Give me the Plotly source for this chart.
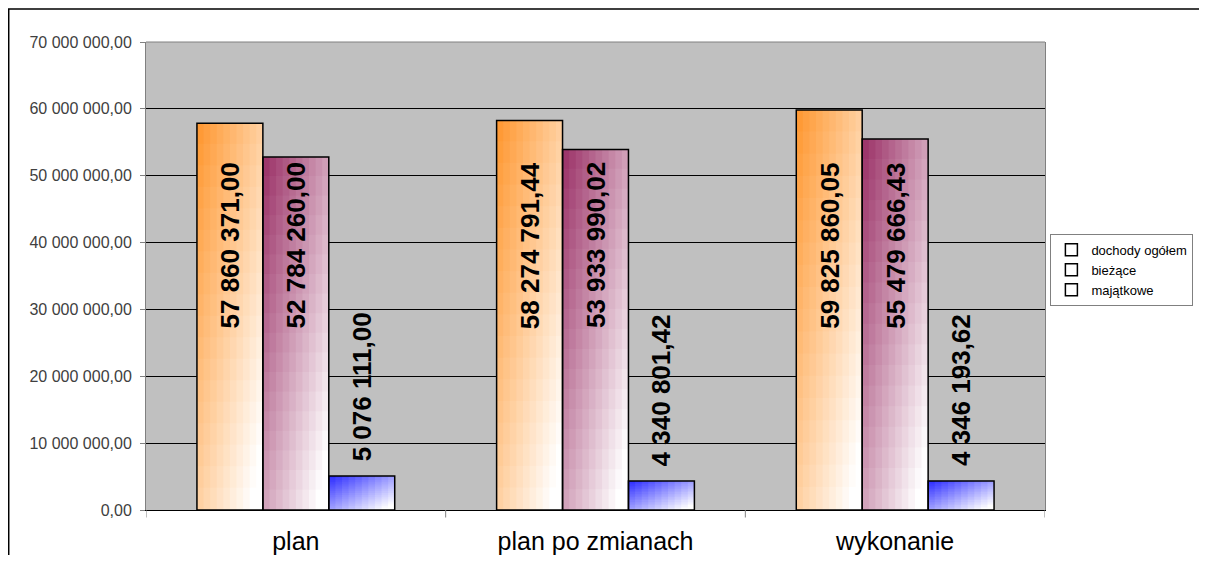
import plotly.graph_objects as go

# ---------------- data ----------------
categories = ["plan", "plan po zmianach", "wykonanie"]
series_names = ["dochody ogółem", "bieżące", "majątkowe"]
dochody_ogolem = [57860371.00, 58274791.44, 59825860.05]
biezace = [52784260.00, 53933990.02, 55479666.43]
majatkowe = [5076111.00, 4340801.42, 4346193.62]
y_tick_values = [0, 10e6, 20e6, 30e6, 40e6, 50e6, 60e6, 70e6]
y_tick_labels = ["0,00", "10 000 000,00", "20 000 000,00", "30 000 000,00",
                 "40 000 000,00", "50 000 000,00", "60 000 000,00", "70 000 000,00"]

series_values = [dochody_ogolem, biezace, majatkowe]

# ---------------- style ----------------
base_colors = [(255, 150, 45), (153, 45, 100), (40, 40, 255)]
BAR_W = 0.22
Y_MAX = 70e6
N_COLS, N_ROWS = 10, 18  # cells used to emulate the diagonal gradient fill


def fmt(v):
    return f"{v:,.2f}".replace(",", " ").replace(".", ",")


def mix(c, t):
    t = max(0.0, min(1.0, t))
    r, g, b = (round(ci + (255 - ci) * t) for ci in c)
    return f"rgb({r},{g},{b})"


fig = go.Figure()
idx = list(range(len(categories)))

for s, vals in enumerate(series_values):
    left = -1.5 * BAR_W + s * BAR_W
    cw = BAR_W / N_COLS
    for j in range(N_ROWS):  # j = 0 is top row
        for k in range(N_COLS):
            u = (k + 0.5) / N_COLS
            v = (j + 0.5) / N_ROWS
            t = (u + v) / 2 * 1.1
            frac = 1.0 if j == 0 else 1.04
            fig.add_trace(go.Bar(
                x=idx,
                y=[val / N_ROWS * frac for val in vals],
                base=[val * (N_ROWS - 1 - j) / N_ROWS for val in vals],
                offset=left + k * cw,
                width=cw * (1.0 if k == N_COLS - 1 else 1.15),
                marker=dict(color=mix(base_colors[s], t), line=dict(width=0)),
                showlegend=False,
                hoverinfo="skip",
            ))

# outline bars (also legend entries)
for s, vals in enumerate(series_values):
    left = -1.5 * BAR_W + s * BAR_W
    fig.add_trace(go.Bar(
        x=idx, y=vals, offset=left, width=BAR_W,
        name=series_names[s],
        marker=dict(color="rgba(0,0,0,0)", line=dict(color="black", width=1.5)),
    ))

# data labels
annotations = []
for s, vals in enumerate(series_values):
    center = -BAR_W + s * BAR_W
    for i, val in enumerate(vals):
        if val > 0.2 * Y_MAX:
            y, yanchor, yshift = 0.565 * Y_MAX, "middle", 0
        else:
            y, yanchor, yshift = val, "bottom", 13
        annotations.append(dict(
            x=i + center, y=y, xref="x", yref="y", text=fmt(val),
            showarrow=False, textangle=-90, yanchor=yanchor, xanchor="center",
            yshift=yshift,
            font=dict(family="Liberation Sans, Arial, sans-serif", size=26,
                      color="black", weight="bold"),
        ))

fig.update_layout(
    width=1191, height=547, autosize=False,
    margin=dict(l=138, r=154, t=34, b=45, autoexpand=False),
    barmode="overlay",
    paper_bgcolor="white",
    plot_bgcolor="#c0c0c0",
    font=dict(family="Liberation Sans, Arial, sans-serif", color="black"),
    annotations=annotations,
    legend=dict(
        x=1.006, y=0.59, xanchor="left", yanchor="top",
        bgcolor="white", bordercolor="#808080", borderwidth=1,
        font=dict(size=13, color="black"), tracegroupgap=0,
        traceorder="normal",
    ),
    xaxis=dict(
        type="linear", range=[-0.5, 2.5],
        tickvals=idx, ticktext=categories,
        tickfont=dict(size=25, color="black"),
        showgrid=False, zeroline=False, automargin=False,
        showline=True, linecolor="black", linewidth=1,
        ticks="", ticklabelstandoff=9,
    ),
    yaxis=dict(
        range=[0, Y_MAX],
        tickvals=y_tick_values, ticktext=y_tick_labels,
        tickfont=dict(size=16, color="#404040"),
        ticks="outside", ticklen=5, tickcolor="#808080",
        ticklabelstandoff=5, automargin=False,
        showgrid=True, gridcolor="black", gridwidth=1,
        zeroline=False,
        showline=True, linecolor="#808080", linewidth=1, mirror=True,
    ),
    shapes=[
        # top border of plot area
        dict(type="line", xref="paper", yref="paper", x0=0, x1=1, y0=1, y1=1,
             line=dict(color="#808080", width=1), layer="above"),
        # category separator ticks on x axis
        *[dict(type="line", xref="x", yref="paper", x0=b, x1=b, y0=0, y1=-0.016,
               line=dict(color="#808080", width=1))
          for b in [-0.5, 0.5, 1.5, 2.5]],
        # outer chart border
        dict(type="rect", xref="paper", yref="paper",
             x0=-0.1527, x1=1.3, y0=-0.3, y1=1.0705,
             line=dict(color="black", width=1.5), fillcolor="rgba(0,0,0,0)"),
    ],
)

fig.write_html("out.html")
